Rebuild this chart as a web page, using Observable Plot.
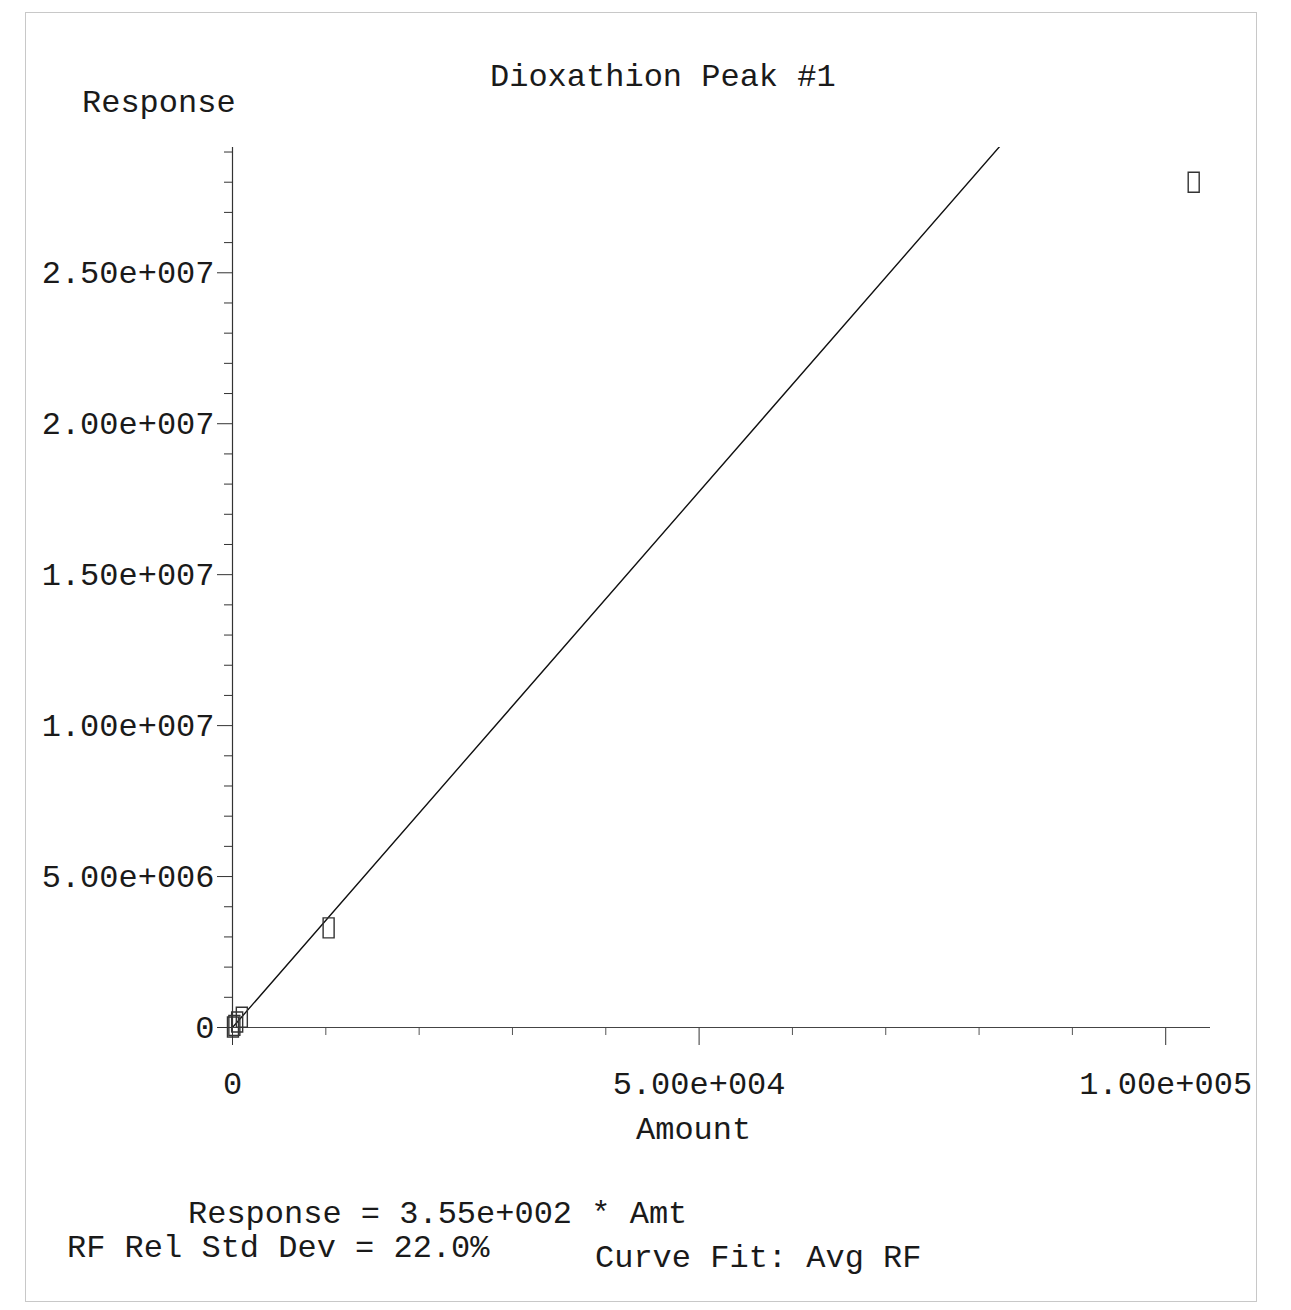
<!DOCTYPE html>
<html>
<head>
<meta charset="utf-8">
<script src="https://cdn.jsdelivr.net/npm/d3@7"></script>
<script src="https://cdn.jsdelivr.net/npm/@observablehq/plot@0.6"></script>
<style>
  html, body { margin: 0; padding: 0; background: #fff; }
  #page { position: relative; width: 1291px; height: 1310px; overflow: hidden; }
  .t { position: absolute; font-family: "Liberation Mono", "DejaVu Sans Mono", monospace; font-size: 32px; color: #1a1a1a; white-space: pre; line-height: 1; }
  #frame { position: absolute; left: 25px; top: 12px; width: 1230px; height: 1288px; border: 1px solid #c8c8c8; }
  #chart { position: absolute; left: 0; top: 0; }
</style>
</head>
<body>
<div id="page">
  <div id="frame"></div>
  <div id="chart"></div>
  <div class="t" style="left:490px; top:62px;">Dioxathion Peak #1</div>
  <div class="t" style="left:82px; top:88px;">Response</div>
  <div class="t" style="left:636px; top:1115px;">Amount</div>
  <div class="t" style="left:188px; top:1199px;">Response = 3.55e+002 * Amt</div>
  <div class="t" style="left:67px; top:1233px;">RF Rel Std Dev = 22.0%</div>
  <div class="t" style="left:595px; top:1243px;">Curve Fit: Avg RF</div>
</div>
<script>
// Calibration points
const amounts   = [50, 200, 500, 1000, 10300, 103000];
const responses = [15000, 70000, 180000, 340000, 3300000, 28000000];

// Average response factor (from the fit text)
const avgRF = 355;

// Axis ticks
const xMajorTicks = [0, 50000, 100000];
const xMinorTicks = [10000, 20000, 30000, 40000, 60000, 70000, 80000, 90000];
const yMajorTicks = [0, 5e6, 1e7, 1.5e7, 2e7, 2.5e7];
const yMinorTicks = [1e6,2e6,3e6,4e6,6e6,7e6,8e6,9e6,1.1e7,1.2e7,1.3e7,1.4e7,1.6e7,1.7e7,1.8e7,1.9e7,2.1e7,2.2e7,2.3e7,2.4e7,2.6e7,2.7e7,2.8e7,2.9e7];
const xDomain = [0, 104800];
const yDomain = [0, 29150000];

const points = amounts.map((a, i) => ({amt: a, resp: responses[i]}));
const fitLine = xDomain.map(a => ({amt: a, resp: avgRF * a}));

function sci(v) {
  if (v === 0) return "0";
  const e = Math.floor(Math.log10(v));
  const m = v / Math.pow(10, e);
  return m.toFixed(2) + "e+" + String(e).padStart(3, "0");
}

const rectSymbol = {
  draw(ctx, size) { ctx.moveTo(-5.5, -10); ctx.lineTo(5.5, -10); ctx.lineTo(5.5, 10); ctx.lineTo(-5.5, 10); ctx.closePath(); }
};

const font = '"Liberation Mono", "DejaVu Sans Mono", monospace';

const chart = Plot.plot({
  width: 1291,
  height: 1310,
  marginLeft: 232,
  marginRight: 81,
  marginTop: 147,
  marginBottom: 283,
  style: {fontFamily: font, fontSize: "32px", color: "#1a1a1a", background: "transparent"},
  x: {domain: xDomain, label: null},
  y: {domain: yDomain, label: null},
  marks: [
    Plot.axisY({ticks: yMinorTicks, tickSize: 8, tickFormat: () => "", label: null, stroke: "#333"}),
    Plot.axisY({ticks: yMajorTicks, tickSize: 15, tickPadding: 3, tickFormat: sci, label: null, stroke: "#333", fill: "#1a1a1a"}),
    Plot.axisX({ticks: xMinorTicks, tickSize: 8, tickFormat: () => "", label: null, stroke: "#555"}),
    Plot.axisX({ticks: xMajorTicks, tickSize: 18, tickPadding: 26, tickFormat: sci, label: null, stroke: "#333", fill: "#1a1a1a"}),
    Plot.ruleX([0], {stroke: "#333", strokeWidth: 1.2}),
    Plot.ruleY([0], {stroke: "#444", strokeWidth: 1.2}),
    Plot.line(fitLine, {x: "amt", y: "resp", stroke: "#111", strokeWidth: 1.4, clip: true}),
    Plot.dot(points, {x: "amt", y: "resp", symbol: rectSymbol, stroke: "#333", strokeWidth: 1.4, fill: "none"})
  ]
});
document.getElementById("chart").appendChild(chart);
</script>
</body>
</html>
